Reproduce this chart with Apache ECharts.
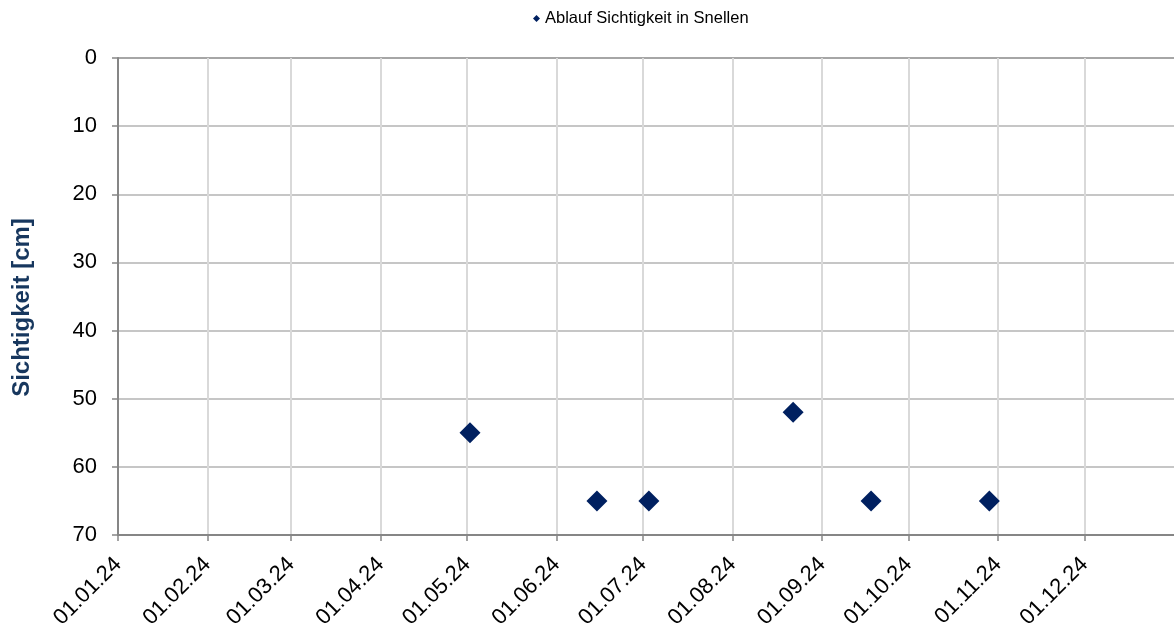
<!DOCTYPE html>
<html>
<head>
<meta charset="utf-8">
<script src="https://cdn.jsdelivr.net/npm/echarts@6/dist/echarts.min.js"></script>
<style>
  html, body { margin: 0; padding: 0; background: #ffffff; }
  #chart { width: 1174px; height: 637px; }
</style>
</head>
<body>
<div id="chart"></div>
<script>
// Measurement dates (Y, M, D) and visibility depth in cm
const measureDates = [
  [2024, 5, 2],
  [2024, 6, 15],
  [2024, 7, 3],
  [2024, 8, 22],
  [2024, 9, 18],
  [2024, 10, 29]
];
const sichtigkeit = [55, 65, 65, 52, 65, 65];

// Monthly tick dates on the date axis
const tickDates = [
  [2024, 1, 1], [2024, 2, 1], [2024, 3, 1], [2024, 4, 1],
  [2024, 5, 1], [2024, 6, 1], [2024, 7, 1], [2024, 8, 1],
  [2024, 9, 1], [2024, 10, 1], [2024, 11, 1], [2024, 12, 1]
];
const xStart = [2024, 1, 1];
const xEnd = [2025, 1, 1];

// Depth axis ticks
const yTicks = [0, 10, 20, 30, 40, 50, 60, 70];

const seriesName = 'Ablauf Sichtigkeit in Snellen';
const axisTitle = 'Sichtigkeit [cm]';

function ts(d) { return new Date(d[0], d[1] - 1, d[2]).getTime(); }
function pad(n) { return (n < 10 ? '0' : '') + n; }
function fmt(v) {
  const d = new Date(v);
  return pad(d.getDate()) + '.' + pad(d.getMonth() + 1) + '.' + pad(d.getFullYear() % 100);
}

const points = measureDates.map((d, i) => [ts(d), sichtigkeit[i]]);
const tickValues = tickDates.map(ts);

const font = 'Liberation Sans, Arial, sans-serif';
const chart = echarts.init(document.getElementById('chart'), null, { renderer: 'canvas' });

chart.setOption({
  animation: false,
  backgroundColor: '#ffffff',
  textStyle: { fontFamily: font },
  legend: {
    top: 5,
    left: 528,
    itemWidth: 7,
    itemHeight: 7,
    itemGap: 3,
    textStyle: { fontSize: 16.5, color: '#000000', fontFamily: font },
    data: [{ name: seriesName, icon: 'diamond' }]
  },
  grid: { left: 118, top: 58, right: -3, bottom: 102, containLabel: false },
  xAxis: {
    type: 'value',
    position: 'bottom',
    min: ts(xStart),
    max: ts(xEnd),
    axisLine: { show: true, onZero: false, lineStyle: { color: '#868686', width: 2 } },
    axisTick: {
      show: true,
      length: 6,
      lineStyle: { color: '#868686', width: 1.5 },
      customValues: tickValues
    },
    axisLabel: {
      customValues: tickValues,
      rotate: 45,
      margin: 26,
      fontSize: 22,
      color: '#000000',
      fontFamily: font,
      formatter: fmt
    },
    splitLine: { show: true, lineStyle: { color: '#d9d9d9', width: 2 } }
  },
  yAxis: {
    type: 'value',
    inverse: true,
    min: yTicks[0],
    max: yTicks[yTicks.length - 1],
    interval: 10,
    name: axisTitle,
    nameLocation: 'middle',
    nameRotate: 90,
    nameGap: 84,
    nameTextStyle: {
      fontSize: 24,
      fontWeight: 'bold',
      color: '#17375e',
      fontFamily: font,
      padding: [0, 22, 0, 0]
    },
    axisLine: { show: true, lineStyle: { color: '#868686', width: 2 } },
    axisTick: { show: true, length: 6, lineStyle: { color: '#868686', width: 1.5 } },
    axisLabel: { margin: 21, fontSize: 22, color: '#000000', fontFamily: font },
    splitLine: {
      show: true,
      lineStyle: {
        color: ['#a6a6a6', '#c6c6c6', '#c6c6c6', '#c6c6c6', '#c6c6c6', '#c6c6c6', '#c6c6c6', '#c6c6c6'],
        width: 2
      }
    }
  },
  series: [{
    name: seriesName,
    type: 'scatter',
    symbol: 'diamond',
    symbolSize: 21,
    itemStyle: { color: '#002060', opacity: 1 },
    data: points
  }]
});
</script>
</body>
</html>
